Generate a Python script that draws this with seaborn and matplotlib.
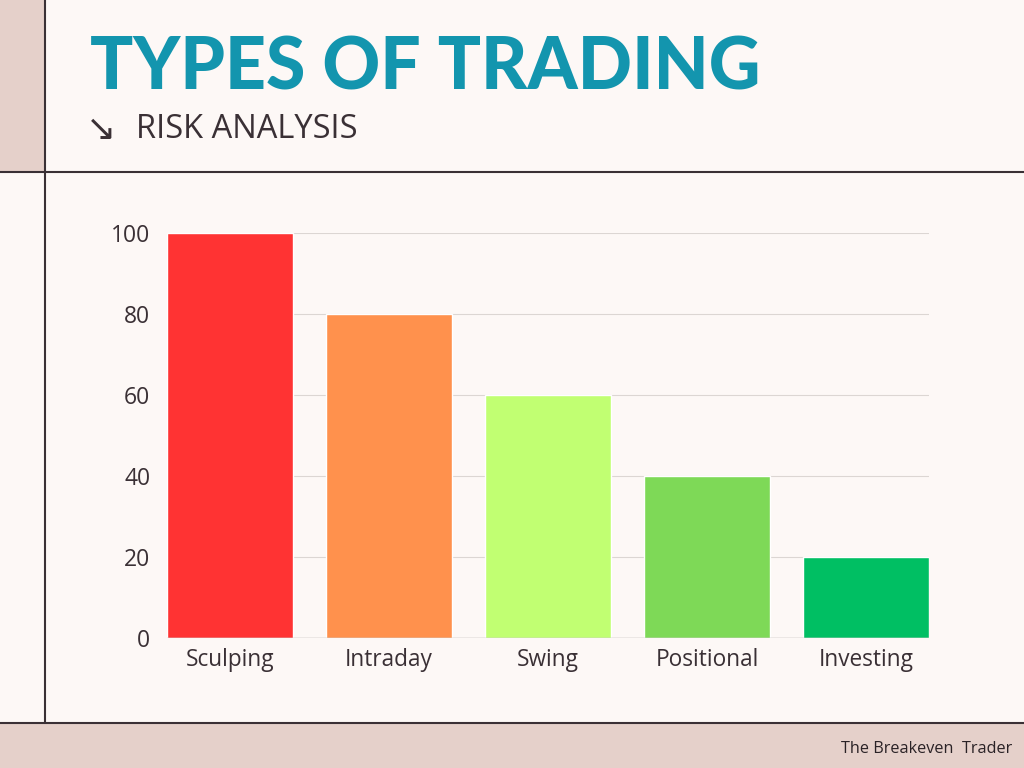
import numpy as np
import pandas as pd
import seaborn as sns
import matplotlib.pyplot as plt
from matplotlib.patches import Rectangle
from matplotlib.lines import Line2D

# datos del grafico
categorias = ['Sculping', 'Intraday', 'Swing', 'Positional', 'Investing']
riesgo = [100, 80, 60, 40, 20]
colores = ['#FF3333', '#FF914D', '#C1FF72', '#7ED957', '#00BF63']
ticks_y = [0, 20, 40, 60, 80, 100]

titulo = 'TYPES OF TRADING'
subtitulo = 'RISK ANALYSIS'
firma = 'The Breakeven  Trader'

fondo = '#FDF8F6'
rosa = '#E5D0CA'
oscuro = '#3A3035'
teal = '#1395AE'

sns.set_theme(style='white')
plt.rcParams['font.family'] = ['Open Sans', 'DejaVu Sans']

fig = plt.figure(figsize=(10.24, 7.68), dpi=100)
fig.patch.set_facecolor(fondo)

W, H = 1024, 768
def fx(px):
    return px / W
def fy(py):
    return 1 - py / H

# franjas y lineas del marco
fig.patches.append(Rectangle((0, fy(172)), fx(45), 1 - fy(172), transform=fig.transFigure,
                             facecolor=rosa, edgecolor='none', zorder=0))
fig.patches.append(Rectangle((0, 0), 1, fy(723), transform=fig.transFigure,
                             facecolor=rosa, edgecolor='none', zorder=0))
fig.lines.append(Line2D([0, 1], [fy(172), fy(172)], transform=fig.transFigure, color=oscuro, lw=1.5))
fig.lines.append(Line2D([0, 1], [fy(723), fy(723)], transform=fig.transFigure, color=oscuro, lw=1.5))
fig.lines.append(Line2D([fx(45), fx(45)], [fy(723), 1], transform=fig.transFigure, color=oscuro, lw=1.5))

# titulos
fig.text(fx(90), fy(69), titulo, color=teal, fontsize=51.5, fontweight='black',
         ha='left', va='center', family=['Lato', 'DejaVu Sans'])
fig.text(fx(86), fy(130), '\u2198', color=oscuro, fontsize=26, ha='left', va='center',
         family=['DejaVu Sans'])
fig.text(fx(136), fy(130), subtitulo, color=oscuro, fontsize=23.5, ha='left', va='center')
fig.text(fx(1012), fy(749), firma, color='#2A2226', fontsize=11.7, ha='right', va='center')

# grafico de barras
ax = fig.add_axes([fx(167), fy(638), fx(929) - fx(167), fy(233) - fy(638)])
ax.set_facecolor(fondo)
df = pd.DataFrame({'cat': categorias, 'val': riesgo})
sns.barplot(data=df, x='cat', y='val', hue='cat', palette=colores, width=0.79,
            saturation=1, legend=False, ax=ax, zorder=3)

ax.set_xlim(-0.395, 4.395)
ax.set_ylim(0, 100)
ax.set_yticks(ticks_y)
for t in ticks_y[1:]:
    ax.axhline(t, color='#DCD6D3', lw=0.8, zorder=1)
ax.axhline(0, color='#A9A4A2', lw=1, zorder=4)
for s in ax.spines.values():
    s.set_visible(False)
ax.set_xlabel('')
ax.set_ylabel('')
ax.tick_params(axis='y', length=0, pad=12, labelsize=16.5, labelcolor=oscuro)
ax.tick_params(axis='x', length=0, pad=7, labelsize=16.3, labelcolor=oscuro)

fig.savefig('out.png', dpi=100, facecolor=fondo)
